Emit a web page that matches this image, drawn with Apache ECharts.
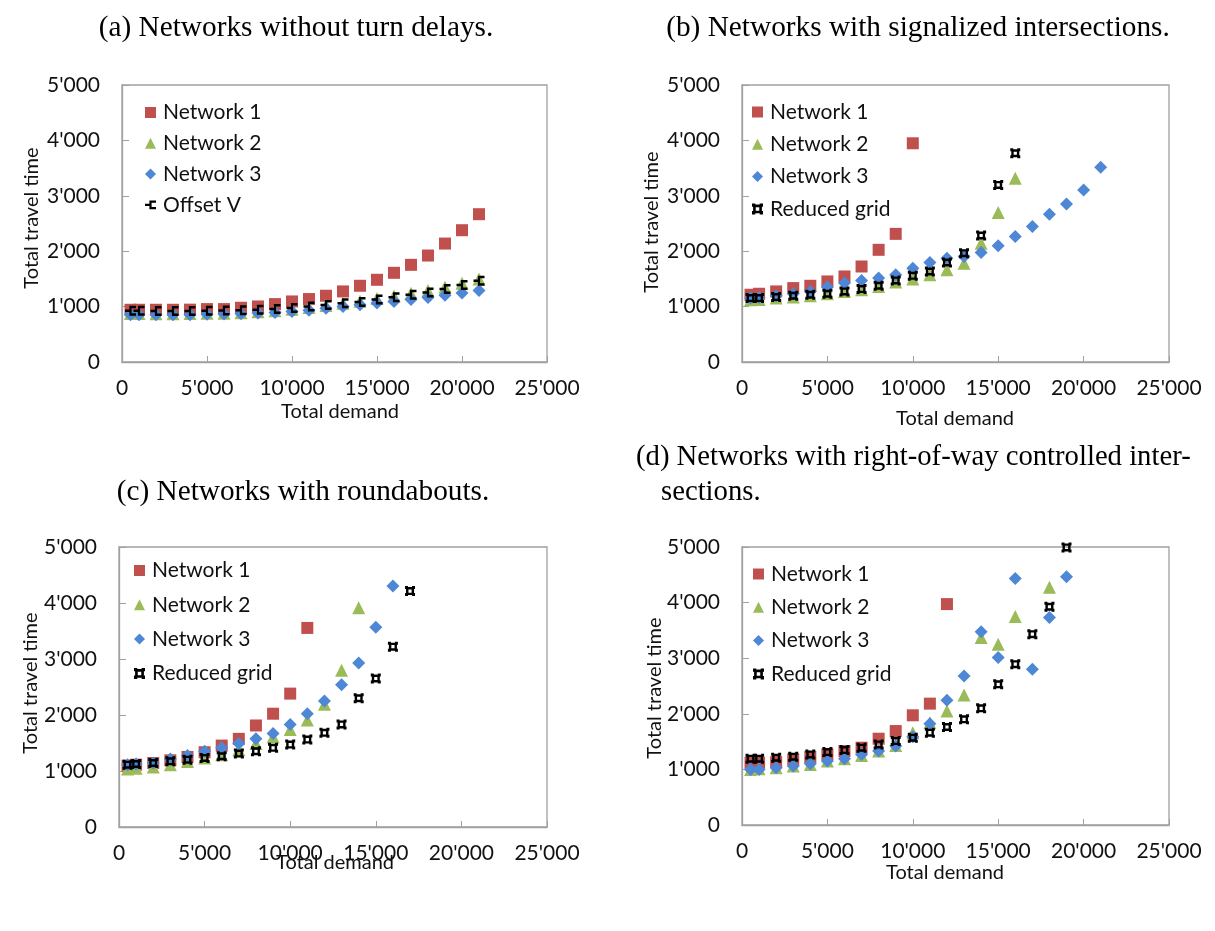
<!DOCTYPE html>
<html>
<head>
<meta charset="utf-8">
<script src="https://cdn.jsdelivr.net/npm/echarts/dist/echarts.min.js"></script>
<style>
  html, body { margin: 0; padding: 0; background: #fff; }
  #chart { width: 1215px; height: 931px; }
</style>
</head>
<body>
<div id="chart"></div>
<script>
// Demand levels shared by all series (x values)
const demand = [500, 1000, 2000, 3000, 4000, 5000, 6000, 7000, 8000, 9000, 10000,
                11000, 12000, 13000, 14000, 15000, 16000, 17000, 18000, 19000, 20000, 21000];

// Tick labels
const xTicks = [0, 5000, 10000, 15000, 20000, 25000];
const yTicks = [0, 1000, 2000, 3000, 4000, 5000];

// (a) Networks without turn delays
const a_net1 = [943, 943, 943, 943, 945, 955, 955, 979, 1003, 1045, 1093, 1136, 1196, 1274, 1376, 1484, 1610, 1754, 1922, 2138, 2379, 2668];
const a_net2 = [875, 875, 872, 872, 875, 878, 882, 890, 905, 925, 950, 985, 1020, 1060, 1095, 1145, 1190, 1240, 1290, 1355, 1420, 1500];
const a_net3 = [853, 853, 853, 853, 853, 862, 865, 871, 883, 895, 913, 935, 970, 1003, 1033, 1063, 1093, 1130, 1165, 1205, 1245, 1292];
const a_offv = [925, 925, 922, 922, 922, 925, 928, 932, 943, 958, 973, 1000, 1030, 1060, 1085, 1130, 1170, 1212, 1256, 1316, 1390, 1468];

// (b) Networks with signalized intersections
const b_net1 = [1214, 1232, 1274, 1334, 1376, 1454, 1544, 1724, 2025, 2313, 3948];
const b_net2 = [1124, 1130, 1154, 1172, 1196, 1232, 1274, 1304, 1364, 1442, 1496, 1574, 1664, 1784, 2145, 2698, 3317];
const b_net3 = [1154, 1166, 1196, 1232, 1274, 1352, 1424, 1472, 1514, 1574, 1694, 1796, 1874, 1904, 1977, 2097, 2265, 2445, 2667, 2854, 3106, 3515];
const b_grid = [1154, 1154, 1172, 1196, 1214, 1232, 1274, 1316, 1376, 1472, 1556, 1634, 1796, 1965, 2283, 3197, 3768];

// (c) Networks with roundabouts
const c_net1 = [1095, 1113, 1143, 1191, 1251, 1335, 1454, 1574, 1813, 2023, 2382, 3555];
const c_net2 = [1035, 1047, 1071, 1113, 1170, 1230, 1290, 1380, 1490, 1610, 1742, 1910, 2191, 2801, 3914];
const c_net3 = [1113, 1125, 1143, 1215, 1275, 1353, 1413, 1490, 1574, 1670, 1832, 2023, 2251, 2538, 2927, 3567, 4303];
const c_grid = [1113, 1125, 1143, 1173, 1203, 1233, 1263, 1311, 1353, 1413, 1472, 1562, 1682, 1832, 2299, 2652, 3220, 4213];

// (d) Networks with right-of-way controlled intersections
const d_net1 = [1120, 1120, 1132, 1180, 1222, 1270, 1330, 1390, 1552, 1690, 1973, 2183, 3973];
const d_net2 = [1000, 1012, 1030, 1060, 1090, 1150, 1192, 1252, 1330, 1432, 1661, 1841, 2051, 2339, 3372, 3252, 3751, null, 4274];
const d_net3 = [1000, 1000, 1030, 1060, 1102, 1150, 1192, 1270, 1330, 1420, 1588, 1823, 2243, 2682, 3474, 3012, 4435, 2802, 3733, 4465];
const d_grid = [1192, 1192, 1210, 1228, 1270, 1312, 1348, 1390, 1450, 1510, 1570, 1660, 1763, 1901, 2099, 2531, 2892, 3432, 3925, 4993];

const FONT = 'Lato';
const SERIF = '"Liberation Serif", "Times New Roman", serif';
const RED = '#c0504d', GREEN = '#9bbb59', BLUE = '#4d87d6', BLACK = '#000000';
const SYM_GRID = 'path://M0,0h3v1h4v-1h3v3h-1v4h1v3h-3v-1h-4v1h-3v-3h1v-4h-1z M3.4,3.4v3.2h3.2v-3.2z';
const SYM_OFFV = 'path://M0,4h4v-3h6v2h-4v4h4v2h-6v-3h-4z';

function fmt(v) {
  return String(v).replace(/\B(?=(\d{3})+(?!\d))/g, "'");
}
function pts(vals) {
  return vals.map((v, i) => [demand[i], v]).filter(p => p[1] != null);
}

// Plot areas of the four panels
const grids = [
  { left: 122, top: 85, width: 425, height: 277 },
  { left: 742, top: 85, width: 427, height: 277 },
  { left: 119, top: 547, width: 428, height: 280 },
  { left: 742, top: 547, width: 427, height: 278 }
];

const axisColor = '#a0a0a0';
const labelStyle = { fontFamily: FONT, fontSize: 21, color: '#111' };

const xAxes = grids.map((g, i) => ({
  type: 'value', gridIndex: i, min: xTicks[0], max: xTicks[xTicks.length - 1], interval: 5000,
  axisLine: { show: true, lineStyle: { color: axisColor, width: 1.3 } },
  axisTick: { show: true, inside: true, length: 6, lineStyle: { color: axisColor } },
  splitLine: { show: false },
  axisLabel: Object.assign({ margin: 16, formatter: fmt }, labelStyle)
}));
const yAxes = grids.map((g, i) => ({
  type: 'value', gridIndex: i, min: yTicks[0], max: yTicks[yTicks.length - 1], interval: 1000,
  axisLine: { show: true, lineStyle: { color: axisColor, width: 1.3 } },
  axisTick: { show: true, inside: true, length: 7, lineStyle: { color: axisColor } },
  splitLine: { show: false },
  axisLabel: Object.assign({ margin: 22, formatter: fmt }, labelStyle)
}));

function sc(name, idx, data, symbol, size, color) {
  return {
    type: 'scatter', name: name, xAxisIndex: idx, yAxisIndex: idx,
    data: pts(data), symbol: symbol, symbolSize: size, clip: false,
    itemStyle: { color: color, opacity: 1 },
    emphasis: { disabled: true }, animation: false
  };
}

const series = [
  sc('Network 1', 0, a_net1, 'rect', 12, RED),
  sc('Network 2', 0, a_net2, 'triangle', 13, GREEN),
  sc('Network 3', 0, a_net3, 'diamond', 13, BLUE),
  sc('Offset V', 0, a_offv, SYM_OFFV, [11, 10], BLACK),

  sc('Network 1', 1, b_net1, 'rect', 12, RED),
  sc('Network 2', 1, b_net2, 'triangle', 13, GREEN),
  sc('Network 3', 1, b_net3, 'diamond', 13, BLUE),
  sc('Reduced grid', 1, b_grid, SYM_GRID, 10, BLACK),

  sc('Network 1', 2, c_net1, 'rect', 12, RED),
  sc('Network 2', 2, c_net2, 'triangle', 13, GREEN),
  sc('Network 3', 2, c_net3, 'diamond', 13, BLUE),
  sc('Reduced grid', 2, c_grid, SYM_GRID, 10, BLACK),

  sc('Network 1', 3, d_net1, 'rect', 12, RED),
  sc('Network 2', 3, d_net2, 'triangle', 13, GREEN),
  sc('Network 3', 3, d_net3, 'diamond', 13, BLUE),
  sc('Reduced grid', 3, d_grid, SYM_GRID, 10, BLACK)
];

function legend(names, left, top, gap) {
  return {
    orient: 'vertical', left: left, top: top, itemGap: gap,
    itemWidth: 11, itemHeight: 11, selectedMode: false,
    data: names,
    textStyle: { fontFamily: FONT, fontSize: 21, color: '#111', lineHeight: 20, padding: [0, 0, 0, 2] }
  };
}

const legends = [
  legend(['Network 1', 'Network 2', 'Network 3', 'Offset V'], 140, 97, 9.8),
  legend(['Network 1', 'Network 2', 'Network 3', 'Reduced grid'], 747, 96.5, 11.3),
  legend(['Network 1', 'Network 2', 'Network 3', 'Reduced grid'], 129, 555, 13.3),
  legend(['Network 1', 'Network 2', 'Network 3', 'Reduced grid'], 748, 558.5, 12.3)
];

function txt(text, x, y, opts) {
  return {
    type: 'text', x: x, y: y, rotation: (opts && opts.rot) || 0,
    style: Object.assign({
      text: text, fill: '#111', textAlign: 'center', textVerticalAlign: 'middle',
      font: '20px ' + FONT
    }, (opts && opts.style) || {})
  };
}
const titleFont = '29.3px ' + SERIF;
const titleFontD = '28.7px ' + SERIF;

const graphics = [
  // panel captions
  txt('(a) Networks without turn delays.', 296, 28, { style: { font: titleFont, fill: '#000' } }),
  txt('(b) Networks with signalized intersections.', 918, 28, { style: { font: titleFont, fill: '#000' } }),
  txt('(c) Networks with roundabouts.', 303, 492, { style: { font: titleFont, fill: '#000' } }),
  txt('(d) Networks with right-of-way controlled inter-', 636, 457, { style: { font: titleFontD, fill: '#000', textAlign: 'left' } }),
  txt('sections.', 661, 492, { style: { font: titleFontD, fill: '#000', textAlign: 'left' } }),
  // axis titles
  txt('Total demand', 340, 412),
  txt('Total demand', 955, 419),
  txt('Total demand', 335, 863),
  txt('Total demand', 945, 873),
  txt('Total travel time', 32, 218, { rot: Math.PI / 2 }),
  txt('Total travel time', 652, 222, { rot: Math.PI / 2 }),
  txt('Total travel time', 31, 683, { rot: Math.PI / 2 }),
  txt('Total travel time', 655, 688, { rot: Math.PI / 2 })
];

const chart = echarts.init(document.getElementById('chart'), null, { renderer: 'canvas' });
chart.setOption({
  animation: false,
  backgroundColor: '#fff',
  grid: grids.map(g => Object.assign({ show: true, borderColor: axisColor, borderWidth: 1.3, backgroundColor: 'transparent' }, g)),
  xAxis: xAxes,
  yAxis: yAxes,
  legend: legends,
  series: series,
  graphic: graphics
});
</script>
</body>
</html>
